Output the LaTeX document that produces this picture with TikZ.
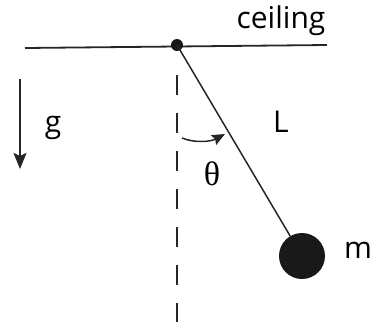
\documentclass[tikz,border=0pt]{standalone}
\usepackage{fontspec}
\setmainfont{Open Sans}
\newfontfamily\thetafont{Liberation Serif}
\usetikzlibrary{arrows.meta}
\begin{document}
\begin{tikzpicture}[x=1pt,y=-1pt,
  lbl/.style={inner sep=0pt,font=\fontsize{30}{34}\selectfont},
  dot/.style={circle,fill=black!90,inner sep=0pt},
  ln/.style={line width=1.5pt,draw=black!85}]
\useasboundingbox (0,0) rectangle (381,322);
% ceiling
\coordinate (cl) at (25,48);
\coordinate (cr) at (327,45);
\draw[ln,line width=1.8pt] (cl) -- (cr);
\node[lbl,anchor=base] (ceil) at (281,28) {ceiling};
% pivot and bob
\node[dot,minimum size=12pt] (pivot) at (177,45) {};
\node[dot,minimum size=46pt] (bob) at (302,256) {};
\draw[ln] (pivot.center) -- (bob);
\node[lbl,anchor=west] (m) at (344,250) {m};
% dashed vertical
\coordinate (dtop) at (177,75);
\coordinate (dbot) at (177,322);
\draw[ln,dash pattern=on 20pt off 18pt] (dtop) -- (dbot);
% length label
\node[lbl] (L) at (281,122) {L};
% gravity
\coordinate (gtop) at (20,79);
\coordinate (gbot) at (20,169);
\draw[ln,line width=2pt,-{Stealth[length=16pt,width=13pt,inset=3pt]}] (gtop) -- (gbot);
\node[lbl] (g) at (53,128) {g};
% theta
\coordinate (ta) at (182,138);
\coordinate (tb) at (225,134);
\draw[ln,-{Stealth[length=13pt,width=11pt,inset=2pt]}] (ta) .. controls (194,143) and (210,142) .. (tb);
\node[inner sep=0pt,font=\thetafont\fontsize{34}{36}\selectfont] (theta) at (212,174) {θ};
\end{tikzpicture}
\end{document}
